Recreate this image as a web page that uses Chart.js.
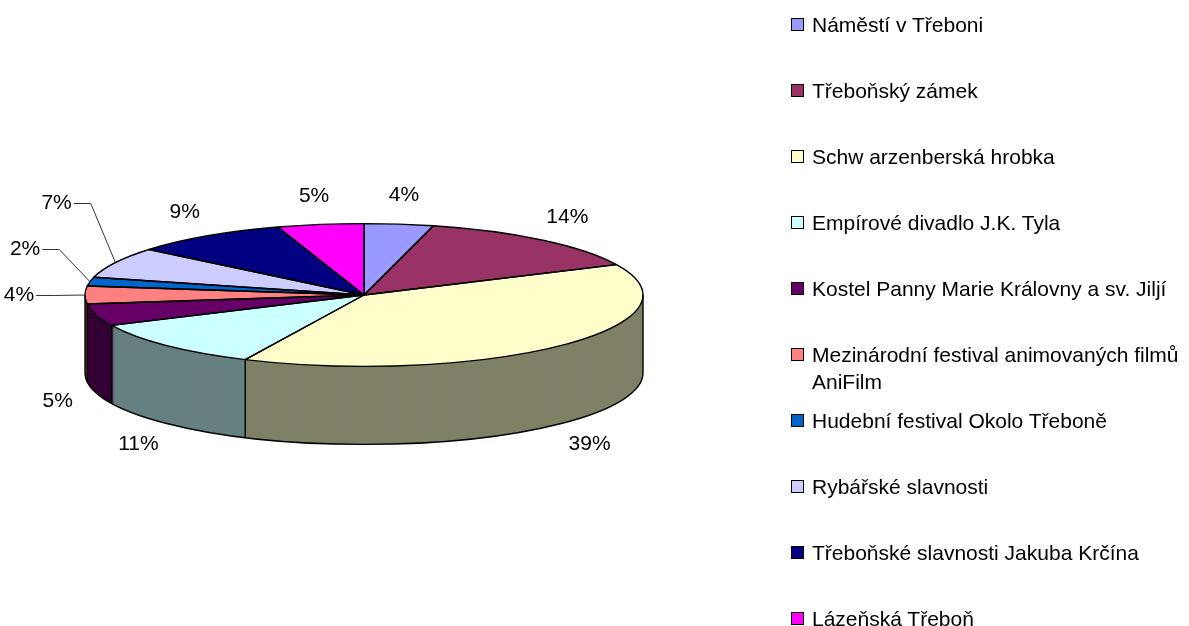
<!DOCTYPE html>
<html lang="cs">
<head>
    <meta charset="UTF-8">
    <title>Návštěvnost - Třeboň</title>
    <script src="https://cdn.jsdelivr.net/npm/chart.js"></script>
    <style>
        html, body { margin: 0; padding: 0; background: #fff; }
        body {
            width: 1189px; height: 626px; position: relative; overflow: hidden;
            font-family: "Liberation Sans", Arial, sans-serif;
        }
        #chart { position: absolute; left: 0; top: 0; }
        #legend { position: absolute; left: 791px; top: 0; }
        .item {
            position: absolute; left: 0; width: 398px;
            display: flex; align-items: flex-start;
            font-size: 21px; line-height: 27px; color: #000;
        }
        .box {
            flex: none; width: 11px; height: 11px; border: 1px solid #000;
            margin-top: 7px; margin-right: 8px;
        }
    </style>
</head>
<body>
    <canvas id="chart" width="1189" height="626"></canvas>
    <div id="legend"></div>

    <script>
        // categories in the order they run clockwise from 12 o'clock
        const categories = [
            "Náměstí v Třeboni",
            "Třeboňský zámek",
            "Schw arzenberská hrobka",
            "Empírové divadlo J.K. Tyla",
            "Kostel Panny Marie Královny a sv. Jiljí",
            "Mezinárodní festival animovaných filmů AniFilm",
            "Hudební festival Okolo Třeboně",
            "Rybářské slavnosti",
            "Třeboňské slavnosti Jakuba Krčína",
            "Lázeňská Třeboň"
        ];
        const shares = [4, 14, 39, 11, 5, 4, 2, 7, 9, 5];
        const palette = ["#9999FF", "#993366", "#FFFFCC", "#CCFFFF", "#660066",
                         "#FF8080", "#0066CC", "#CCCCFF", "#000080", "#FF00FF"];

        // legend (html, one slot every 66px)
        const legend = document.getElementById("legend");
        categories.forEach((name, i) => {
            const item = document.createElement("div");
            item.className = "item";
            item.style.top = (11 + i * 66) + "px";
            const box = document.createElement("span");
            box.className = "box";
            box.style.background = palette[i];
            const txt = document.createElement("span");
            txt.textContent = name;
            item.appendChild(box);
            item.appendChild(txt);
            legend.appendChild(item);
        });

        function shade(hex, f) {
            const n = parseInt(hex.slice(1), 16);
            const r = Math.round(((n >> 16) & 255) * f);
            const g = Math.round(((n >> 8) & 255) * f);
            const b = Math.round((n & 255) * f);
            return `rgb(${r},${g},${b})`;
        }

        function norm(a) {
            const t = Math.PI * 2;
            return ((a % t) + t) % t;
        }

        // squashes the pie into a tilted disc and adds the side wall
        const pie3d = {
            id: "pie3d",
            beforeDatasetsDraw(chart, args, opts) {
                const ctx = chart.ctx;
                const arcs = chart.getDatasetMeta(0).data;
                const cx = arcs[0].x, cy = arcs[0].y;
                for (let d = opts.depth; d > 0; d--) {
                    ctx.save();
                    ctx.translate(cx, cy + d);
                    ctx.scale(1, opts.tilt);
                    ctx.translate(-cx, -cy);
                    arcs.forEach(arc => {
                        const wall = Object.create(arc);
                        wall.options = Object.assign({}, arc.options, {
                            backgroundColor: shade(arc.options.backgroundColor, 0.5)
                        });
                        wall.draw(ctx);
                    });
                    ctx.restore();
                }
                ctx.save();
                ctx.translate(cx, cy);
                ctx.scale(1, opts.tilt);
                ctx.translate(-cx, -cy);
            },
            afterDatasetsDraw(chart, args, opts) {
                const ctx = chart.ctx;
                ctx.restore();
                const arcs = chart.getDatasetMeta(0).data;
                const cx = arcs[0].x, cy = arcs[0].y;
                const r = arcs[0].outerRadius, k = opts.tilt, D = opts.depth;

                ctx.save();
                ctx.strokeStyle = "#000";
                ctx.lineWidth = 1.4;
                ctx.lineJoin = "round";

                // front bottom rim
                ctx.beginPath();
                ctx.ellipse(cx, cy + D, r, r * k, 0, 0, Math.PI);
                ctx.stroke();

                // vertical edges of the wall
                const edges = [0, Math.PI].concat(arcs.map(a => a.startAngle));
                edges.forEach(a => {
                    const n = norm(a);
                    if (n > Math.PI + 1e-6) return;
                    const x = cx + r * Math.cos(n), y = cy + r * k * Math.sin(n);
                    ctx.beginPath();
                    ctx.moveTo(x, y);
                    ctx.lineTo(x, y + D);
                    ctx.stroke();
                });

                // top face outlines
                arcs.forEach(a => {
                    ctx.beginPath();
                    ctx.moveTo(cx, cy);
                    ctx.ellipse(cx, cy, r, r * k, 0, a.startAngle, a.endAngle);
                    ctx.closePath();
                    ctx.stroke();
                });

                // percent labels
                const values = chart.data.datasets[0].data;
                const total = values.reduce((s, v) => s + v, 0);
                ctx.font = opts.font;
                ctx.fillStyle = "#000";
                ctx.textAlign = "center";
                ctx.textBaseline = "middle";

                const labels = arcs.map((a, i) => {
                    const mid = (a.startAngle + a.endAngle) / 2;
                    const c = Math.cos(mid), s = Math.sin(mid);
                    const front = s > 1e-6;
                    const rim = { x: cx + r * c, y: cy + r * k * s + (front ? D : 0) };
                    const text = Math.round(values[i] / total * 100) + "%";
                    const lead = opts.leaders.includes(i);
                    const x = lead ? rim.x + c * opts.leadDist : rim.x + c * opts.offX;
                    const y = lead ? rim.y : rim.y + s * opts.offY;
                    return { i, text, rim, x, y, lead };
                });

                // push leader labels apart, bottom one first
                const led = labels.filter(l => l.lead).sort((a, b) => b.y - a.y);
                for (let j = 1; j < led.length; j++) {
                    led[j].y = Math.min(led[j].y, led[j - 1].y - opts.gap);
                }

                labels.forEach(l => {
                    ctx.fillText(l.text, l.x, l.y);
                    if (l.lead) {
                        const w = ctx.measureText(l.text).width;
                        const x0 = l.x + w / 2 + 2;
                        const y0 = Math.round(l.y) + 0.5;
                        ctx.beginPath();
                        ctx.strokeStyle = "#333";
                        ctx.lineWidth = 1;
                        ctx.moveTo(x0, y0);
                        ctx.lineTo(x0 + 17, y0);
                        ctx.lineTo(l.rim.x, l.rim.y);
                        ctx.stroke();
                    }
                });
                ctx.restore();
            }
        };

        new Chart(document.getElementById("chart"), {
            type: "pie",
            data: {
                labels: categories,
                datasets: [{
                    data: shares,
                    backgroundColor: palette,
                    borderWidth: 0,
                    clip: false
                }]
            },
            options: {
                responsive: false,
                animation: false,
                devicePixelRatio: 1,
                events: [],
                layout: { padding: { left: 85, right: 546, top: 16, bottom: 52 } },
                plugins: {
                    legend: { display: false },
                    tooltip: { enabled: false },
                    pie3d: {
                        depth: 78,
                        tilt: 0.256,
                        font: '21px "Liberation Sans", Arial, sans-serif',
                        offX: 40,
                        offY: 29,
                        leaders: [5, 6, 7],
                        leadDist: 66,
                        gap: 46
                    }
                }
            },
            plugins: [pie3d]
        });
    </script>
</body>
</html>
